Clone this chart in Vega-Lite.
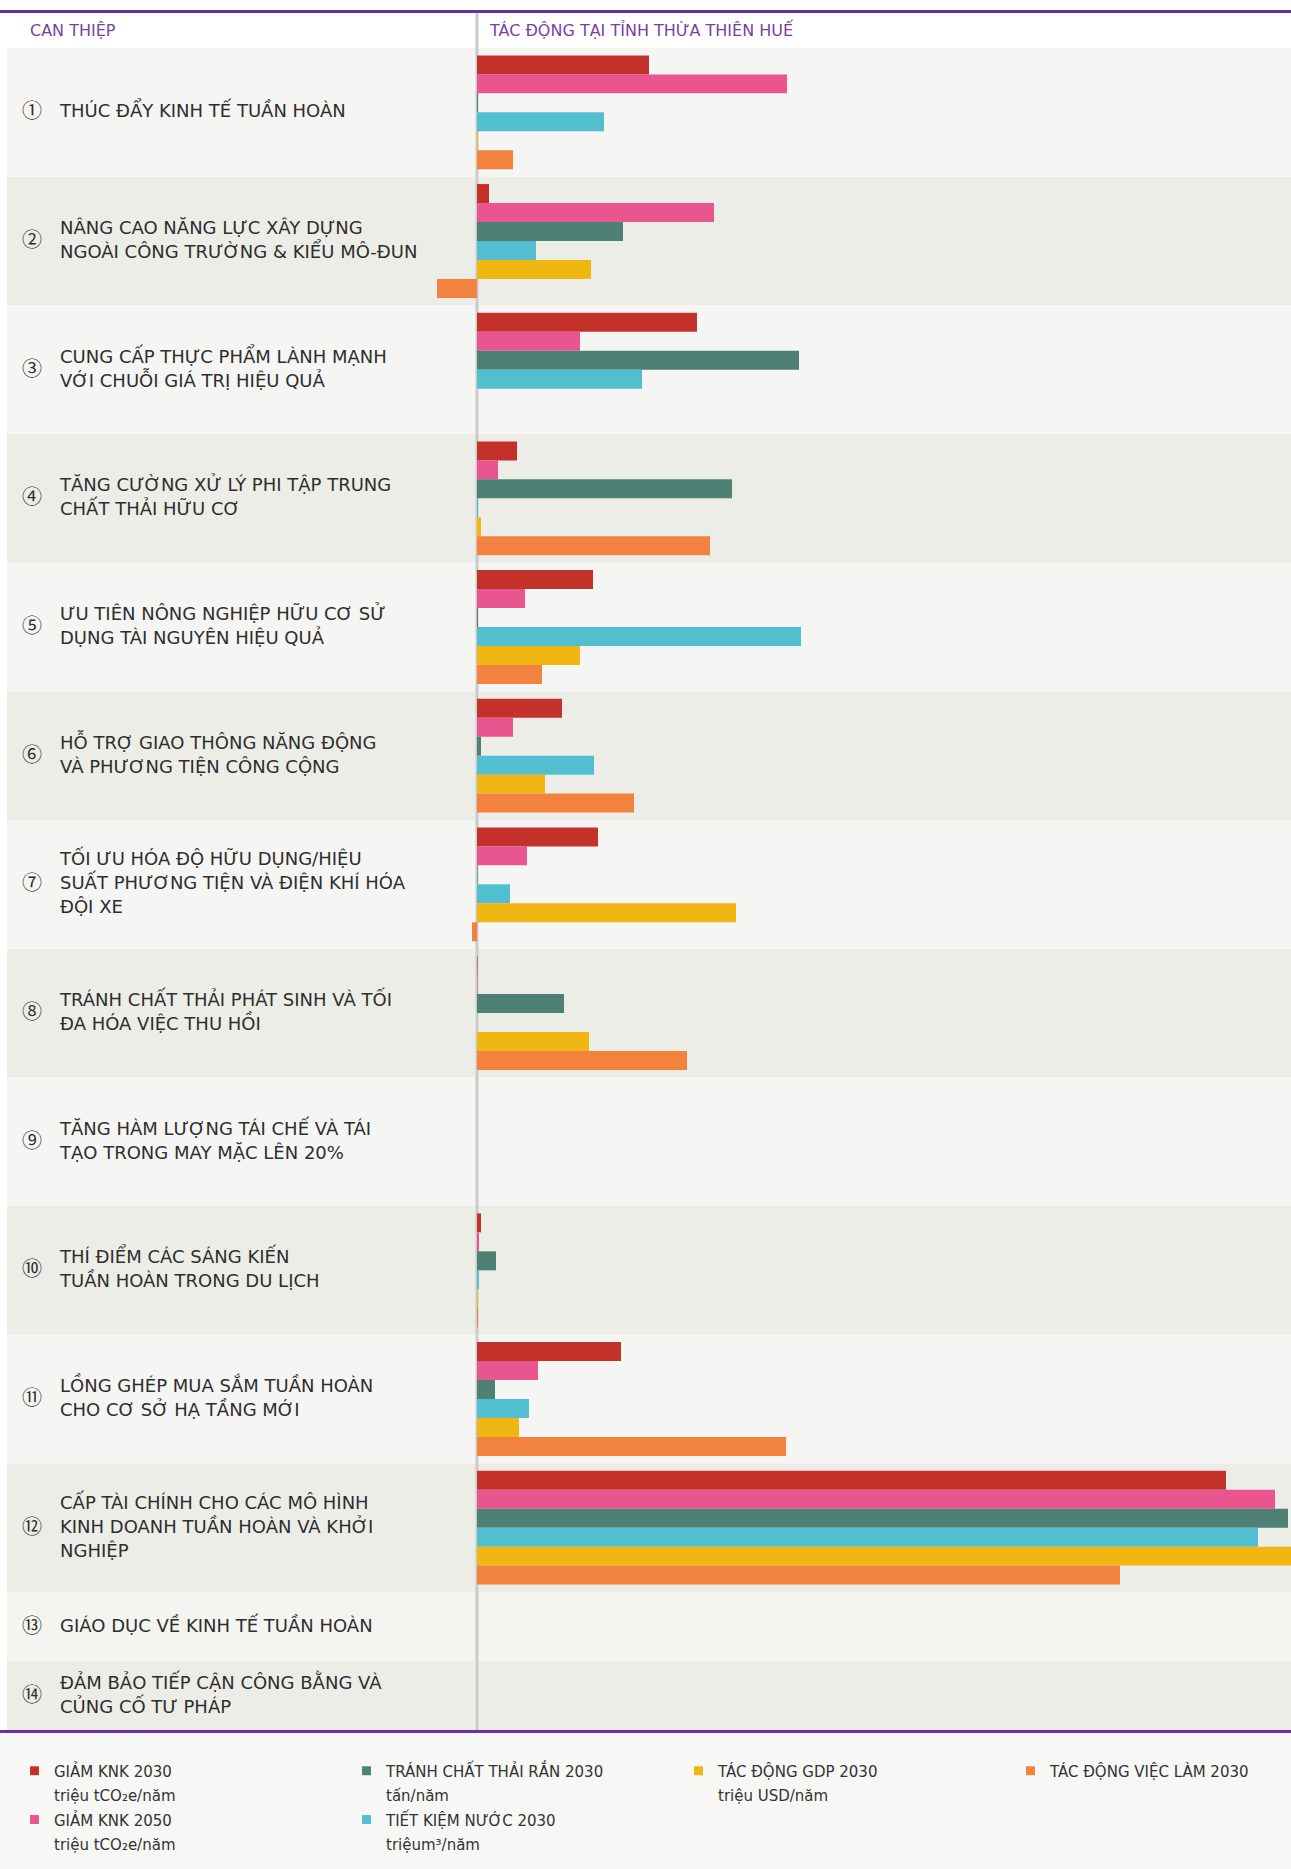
{
  "$schema": "https://vega.github.io/schema/vega-lite/v6.json",
  "background": "#FFFFFF",
  "padding": 0,
  "spacing": 0,
  "config": {"view": {"stroke": null}, "font": "DejaVu Sans", "concat": {"spacing": 0}},
  "datasets": {
    "interventions": [
      {"id": 1, "num": "①", "label": "THÚC ĐẨY KINH TẾ TUẦN HOÀN"},
      {"id": 2, "num": "②", "label": "NÂNG CAO NĂNG LỰC XÂY DỰNG|NGOÀI CÔNG TRƯỜNG & KIỂU MÔ-ĐUN"},
      {"id": 3, "num": "③", "label": "CUNG CẤP THỰC PHẨM LÀNH MẠNH|VỚI CHUỖI GIÁ TRỊ HIỆU QUẢ"},
      {"id": 4, "num": "④", "label": "TĂNG CƯỜNG XỬ LÝ PHI TẬP TRUNG|CHẤT THẢI HỮU CƠ"},
      {"id": 5, "num": "⑤", "label": "ƯU TIÊN NÔNG NGHIỆP HỮU CƠ SỬ|DỤNG TÀI NGUYÊN HIỆU QUẢ"},
      {"id": 6, "num": "⑥", "label": "HỖ TRỢ GIAO THÔNG NĂNG ĐỘNG|VÀ PHƯƠNG TIỆN CÔNG CỘNG"},
      {"id": 7, "num": "⑦", "label": "TỐI ƯU HÓA ĐỘ HỮU DỤNG/HIỆU|SUẤT PHƯƠNG TIỆN VÀ ĐIỆN KHÍ HÓA|ĐỘI XE"},
      {"id": 8, "num": "⑧", "label": "TRÁNH CHẤT THẢI PHÁT SINH VÀ TỐI|ĐA HÓA VIỆC THU HỒI"},
      {"id": 9, "num": "⑨", "label": "TĂNG HÀM LƯỢNG TÁI CHẾ VÀ TÁI|TẠO TRONG MAY MẶC LÊN 20%"},
      {"id": 10, "num": "⑩", "label": "THÍ ĐIỂM CÁC SÁNG KIẾN|TUẦN HOÀN TRONG DU LỊCH"},
      {"id": 11, "num": "⑪", "label": "LỒNG GHÉP MUA SẮM TUẦN HOÀN|CHO CƠ SỞ HẠ TẦNG MỚI"},
      {"id": 12, "num": "⑫", "label": "CẤP TÀI CHÍNH CHO CÁC MÔ HÌNH|KINH DOANH TUẦN HOÀN VÀ KHỞI|NGHIỆP"},
      {"id": 13, "num": "⑬", "label": "GIÁO DỤC VỀ KINH TẾ TUẦN HOÀN"},
      {"id": 14, "num": "⑭", "label": "ĐẢM BẢO TIẾP CẬN CÔNG BẰNG VÀ|CỦNG CỐ TƯ PHÁP"}
    ],
    "impacts": [
      {"id": 1, "metric": "GIẢM KNK 2030|triệu tCO₂e/năm", "value": 172},
      {"id": 1, "metric": "GIẢM KNK 2050|triệu tCO₂e/năm", "value": 310},
      {"id": 1, "metric": "TRÁNH CHẤT THẢI RẮN 2030|tấn/năm", "value": 1},
      {"id": 1, "metric": "TIẾT KIỆM NƯỚC 2030|triệum³/năm", "value": 127},
      {"id": 1, "metric": "TÁC ĐỘNG GDP 2030|triệu USD/năm", "value": 1},
      {"id": 1, "metric": "TÁC ĐỘNG VIỆC LÀM 2030", "value": 36},
      {"id": 2, "metric": "GIẢM KNK 2030|triệu tCO₂e/năm", "value": 12},
      {"id": 2, "metric": "GIẢM KNK 2050|triệu tCO₂e/năm", "value": 237},
      {"id": 2, "metric": "TRÁNH CHẤT THẢI RẮN 2030|tấn/năm", "value": 146},
      {"id": 2, "metric": "TIẾT KIỆM NƯỚC 2030|triệum³/năm", "value": 59},
      {"id": 2, "metric": "TÁC ĐỘNG GDP 2030|triệu USD/năm", "value": 114},
      {"id": 2, "metric": "TÁC ĐỘNG VIỆC LÀM 2030", "value": -40},
      {"id": 3, "metric": "GIẢM KNK 2030|triệu tCO₂e/năm", "value": 220},
      {"id": 3, "metric": "GIẢM KNK 2050|triệu tCO₂e/năm", "value": 103},
      {"id": 3, "metric": "TRÁNH CHẤT THẢI RẮN 2030|tấn/năm", "value": 322},
      {"id": 3, "metric": "TIẾT KIỆM NƯỚC 2030|triệum³/năm", "value": 165},
      {"id": 3, "metric": "TÁC ĐỘNG GDP 2030|triệu USD/năm", "value": 0},
      {"id": 3, "metric": "TÁC ĐỘNG VIỆC LÀM 2030", "value": 0},
      {"id": 4, "metric": "GIẢM KNK 2030|triệu tCO₂e/năm", "value": 40},
      {"id": 4, "metric": "GIẢM KNK 2050|triệu tCO₂e/năm", "value": 21},
      {"id": 4, "metric": "TRÁNH CHẤT THẢI RẮN 2030|tấn/năm", "value": 255},
      {"id": 4, "metric": "TIẾT KIỆM NƯỚC 2030|triệum³/năm", "value": 1},
      {"id": 4, "metric": "TÁC ĐỘNG GDP 2030|triệu USD/năm", "value": 4},
      {"id": 4, "metric": "TÁC ĐỘNG VIỆC LÀM 2030", "value": 233},
      {"id": 5, "metric": "GIẢM KNK 2030|triệu tCO₂e/năm", "value": 116},
      {"id": 5, "metric": "GIẢM KNK 2050|triệu tCO₂e/năm", "value": 48},
      {"id": 5, "metric": "TRÁNH CHẤT THẢI RẮN 2030|tấn/năm", "value": 1},
      {"id": 5, "metric": "TIẾT KIỆM NƯỚC 2030|triệum³/năm", "value": 324},
      {"id": 5, "metric": "TÁC ĐỘNG GDP 2030|triệu USD/năm", "value": 103},
      {"id": 5, "metric": "TÁC ĐỘNG VIỆC LÀM 2030", "value": 65},
      {"id": 6, "metric": "GIẢM KNK 2030|triệu tCO₂e/năm", "value": 85},
      {"id": 6, "metric": "GIẢM KNK 2050|triệu tCO₂e/năm", "value": 36},
      {"id": 6, "metric": "TRÁNH CHẤT THẢI RẮN 2030|tấn/năm", "value": 4},
      {"id": 6, "metric": "TIẾT KIỆM NƯỚC 2030|triệum³/năm", "value": 117},
      {"id": 6, "metric": "TÁC ĐỘNG GDP 2030|triệu USD/năm", "value": 68},
      {"id": 6, "metric": "TÁC ĐỘNG VIỆC LÀM 2030", "value": 157},
      {"id": 7, "metric": "GIẢM KNK 2030|triệu tCO₂e/năm", "value": 121},
      {"id": 7, "metric": "GIẢM KNK 2050|triệu tCO₂e/năm", "value": 50},
      {"id": 7, "metric": "TRÁNH CHẤT THẢI RẮN 2030|tấn/năm", "value": 0.5},
      {"id": 7, "metric": "TIẾT KIỆM NƯỚC 2030|triệum³/năm", "value": 33},
      {"id": 7, "metric": "TÁC ĐỘNG GDP 2030|triệu USD/năm", "value": 259},
      {"id": 7, "metric": "TÁC ĐỘNG VIỆC LÀM 2030", "value": -5},
      {"id": 8, "metric": "GIẢM KNK 2030|triệu tCO₂e/năm", "value": 0.5},
      {"id": 8, "metric": "GIẢM KNK 2050|triệu tCO₂e/năm", "value": 0.5},
      {"id": 8, "metric": "TRÁNH CHẤT THẢI RẮN 2030|tấn/năm", "value": 87},
      {"id": 8, "metric": "TIẾT KIỆM NƯỚC 2030|triệum³/năm", "value": 0},
      {"id": 8, "metric": "TÁC ĐỘNG GDP 2030|triệu USD/năm", "value": 112},
      {"id": 8, "metric": "TÁC ĐỘNG VIỆC LÀM 2030", "value": 210},
      {"id": 9, "metric": "GIẢM KNK 2030|triệu tCO₂e/năm", "value": 0},
      {"id": 9, "metric": "GIẢM KNK 2050|triệu tCO₂e/năm", "value": 0},
      {"id": 9, "metric": "TRÁNH CHẤT THẢI RẮN 2030|tấn/năm", "value": 0},
      {"id": 9, "metric": "TIẾT KIỆM NƯỚC 2030|triệum³/năm", "value": 0},
      {"id": 9, "metric": "TÁC ĐỘNG GDP 2030|triệu USD/năm", "value": 0},
      {"id": 9, "metric": "TÁC ĐỘNG VIỆC LÀM 2030", "value": 0},
      {"id": 10, "metric": "GIẢM KNK 2030|triệu tCO₂e/năm", "value": 4},
      {"id": 10, "metric": "GIẢM KNK 2050|triệu tCO₂e/năm", "value": 2},
      {"id": 10, "metric": "TRÁNH CHẤT THẢI RẮN 2030|tấn/năm", "value": 19},
      {"id": 10, "metric": "TIẾT KIỆM NƯỚC 2030|triệum³/năm", "value": 2},
      {"id": 10, "metric": "TÁC ĐỘNG GDP 2030|triệu USD/năm", "value": 1},
      {"id": 10, "metric": "TÁC ĐỘNG VIỆC LÀM 2030", "value": 1},
      {"id": 11, "metric": "GIẢM KNK 2030|triệu tCO₂e/năm", "value": 144},
      {"id": 11, "metric": "GIẢM KNK 2050|triệu tCO₂e/năm", "value": 61},
      {"id": 11, "metric": "TRÁNH CHẤT THẢI RẮN 2030|tấn/năm", "value": 18},
      {"id": 11, "metric": "TIẾT KIỆM NƯỚC 2030|triệum³/năm", "value": 52},
      {"id": 11, "metric": "TÁC ĐỘNG GDP 2030|triệu USD/năm", "value": 42},
      {"id": 11, "metric": "TÁC ĐỘNG VIỆC LÀM 2030", "value": 309},
      {"id": 12, "metric": "GIẢM KNK 2030|triệu tCO₂e/năm", "value": 749},
      {"id": 12, "metric": "GIẢM KNK 2050|triệu tCO₂e/năm", "value": 798},
      {"id": 12, "metric": "TRÁNH CHẤT THẢI RẮN 2030|tấn/năm", "value": 811},
      {"id": 12, "metric": "TIẾT KIỆM NƯỚC 2030|triệum³/năm", "value": 781},
      {"id": 12, "metric": "TÁC ĐỘNG GDP 2030|triệu USD/năm", "value": 814},
      {"id": 12, "metric": "TÁC ĐỘNG VIỆC LÀM 2030", "value": 643}
    ]
  },
  "vconcat": [
    {
      "width": 1291, "height": 10,
      "view": {"fill": "#FFFFFF", "stroke": null},
      "data": {"values": []},
      "mark": "rect",
      "encoding": {}
    },
    {
      "width": 1291, "height": 3,
      "view": {"fill": "#6B2E9E", "stroke": null},
      "data": {"values": []},
      "mark": "rect",
      "encoding": {}
    },
    {
      "width": 1291,
      "height": 35,
      "view": {"fill": "#FFFFFF", "stroke": null},
      "layer": [
        {
          "data": {"values": [{"base": 0}]},
          "mark": {"type": "rect", "color": "#CBCBCB"},
          "encoding": {
            "x": {"datum": -1.5, "type": "quantitative", "scale": {"domain": [-477, 814], "nice": false, "zero": false}, "axis": null},
            "x2": {"datum": 1.5}
          }
        },
        {
          "data": {"values": [{"header": "CAN THIỆP"}]},
          "mark": {"type": "text", "align": "left", "baseline": "middle", "fontSize": 16, "color": "#7A3FA3"},
          "encoding": {
            "x": {"datum": -447, "type": "quantitative", "scale": {"domain": [-477, 814], "nice": false, "zero": false}, "axis": null},
            "text": {"field": "header"}
          }
        },
        {
          "data": {"values": [{"header": "TÁC ĐỘNG TẠI TỈNH THỪA THIÊN HUẾ"}]},
          "mark": {"type": "text", "align": "left", "baseline": "middle", "fontSize": 16, "color": "#7A3FA3"},
          "encoding": {
            "x": {"datum": 13, "type": "quantitative", "scale": {"domain": [-477, 814], "nice": false, "zero": false}, "axis": null},
            "text": {"field": "header"}
          }
        }
      ]
    },
    {
      "width": 1291,
      "height": 1544,
      "layer": [
        {
          "data": {"name": "interventions"},
          "transform": [{"filter": "datum.id <= 12"}],
          "mark": {"type": "rect"},
          "encoding": {
            "y": {"field": "id", "type": "ordinal", "scale": {"domain": [1,2,3,4,5,6,7,8,9,10,11,12], "paddingInner": 0, "paddingOuter": 0}, "axis": null},
            "x": {"datum": -470, "type": "quantitative", "scale": {"domain": [-477, 814], "nice": false, "zero": false}, "axis": null},
            "x2": {"datum": 814},
            "fill": {"field": "id", "type": "ordinal", "scale": {"domain": [1,2,3,4,5,6,7,8,9,10,11,12,13,14], "range": ["#F5F5F3","#EDEDE8","#F5F5F3","#EDEDE8","#F5F5F3","#EDEDE8","#F5F5F3","#EDEDE8","#F5F5F3","#EDEDE8","#F5F5F3","#EDEDE8","#F4F4F1","#EDEDE8"]}, "legend": null}
          }
        },
        {
          "data": {"values": [{"base": 0}]},
          "mark": {"type": "rect", "color": "#CBCBCB"},
          "encoding": {
            "x": {"datum": -1.5, "type": "quantitative", "scale": {"domain": [-477, 814], "nice": false, "zero": false}, "axis": null},
            "x2": {"datum": 1.5}
          }
        },
        {
          "data": {"name": "impacts"},
          "mark": {"type": "bar"},
          "encoding": {
            "y": {"field": "id", "type": "ordinal", "scale": {"domain": [1,2,3,4,5,6,7,8,9,10,11,12], "paddingInner": 0, "paddingOuter": 0}, "axis": null},
            "yOffset": {"field": "metric", "type": "nominal", "scale": {"domain": ["GIẢM KNK 2030|triệu tCO₂e/năm", "GIẢM KNK 2050|triệu tCO₂e/năm", "TRÁNH CHẤT THẢI RẮN 2030|tấn/năm", "TIẾT KIỆM NƯỚC 2030|triệum³/năm", "TÁC ĐỘNG GDP 2030|triệu USD/năm", "TÁC ĐỘNG VIỆC LÀM 2030"], "paddingInner": 0, "paddingOuter": 0.39}},
            "x": {"field": "value", "type": "quantitative", "scale": {"domain": [-477, 814], "nice": false, "zero": false}, "axis": null},
            "color": {
              "field": "metric", "type": "nominal",
              "scale": {
                "domain": ["GIẢM KNK 2030|triệu tCO₂e/năm", "TRÁNH CHẤT THẢI RẮN 2030|tấn/năm", "TÁC ĐỘNG GDP 2030|triệu USD/năm", "TÁC ĐỘNG VIỆC LÀM 2030", "GIẢM KNK 2050|triệu tCO₂e/năm", "TIẾT KIỆM NƯỚC 2030|triệum³/năm"],
                "range": ["#C4312A", "#4E8074", "#F0B612", "#F2823D", "#E8558F", "#52BFD0"]
              },
              "legend": {
                "orient": "none", "legendX": 27, "legendY": 1763, "direction": "horizontal", "columns": 4, "columnPadding": 87, "rowPadding": 8, "gridAlign": "all",
                "padding": 0, "title": null, "symbolType": "square", "symbolSize": 80, "symbolStrokeWidth": 0,
                "labelFont": "DejaVu Sans", "labelFontSize": 15, "labelColor": "#333333", "labelLimit": 400, "labelOffset": 12,
                "labelBaseline": "top",
                "labelExpr": "indexof(datum.label, '|') < 0 ? [datum.label, ' '] : split(datum.label, '|')",
                "encoding": {"labels": {"lineHeight": {"value": 24}, "dy": {"value": -6}}}
              }
            }
          }
        },
        {
          "data": {"name": "interventions"},
          "transform": [{"filter": "datum.id <= 12"}],
          "mark": {"type": "text", "align": "center", "baseline": "middle", "font": "Noto Sans CJK JP", "fontSize": 20, "color": "#2E2E2E"},
          "encoding": {
            "y": {"field": "id", "type": "ordinal", "scale": {"domain": [1,2,3,4,5,6,7,8,9,10,11,12], "paddingInner": 0, "paddingOuter": 0}, "axis": null},
            "x": {"datum": -445, "type": "quantitative", "scale": {"domain": [-477, 814], "nice": false, "zero": false}, "axis": null},
            "text": {"field": "num"}
          }
        },
        {
          "data": {"name": "interventions"},
          "transform": [{"filter": "datum.id <= 12"}],
          "mark": {"type": "text", "align": "left", "baseline": "middle", "fontSize": 18, "lineHeight": 24, "lineBreak": "|", "color": "#2E2E2E",
                   "dy": {"expr": "-12 * (length(split(datum.label, '|')) - 1)"}},
          "encoding": {
            "y": {"field": "id", "type": "ordinal", "scale": {"domain": [1,2,3,4,5,6,7,8,9,10,11,12], "paddingInner": 0, "paddingOuter": 0}, "axis": null},
            "x": {"datum": -417, "type": "quantitative", "scale": {"domain": [-477, 814], "nice": false, "zero": false}, "axis": null},
            "text": {"field": "label"}
          }
        }
      ]
    },
    {
      "width": 1291,
      "height": 138,
      "layer": [
        {
          "data": {"name": "interventions"},
          "transform": [{"filter": "datum.id >= 13"}],
          "mark": {"type": "rect"},
          "encoding": {
            "y": {"field": "id", "type": "ordinal", "scale": {"domain": [13, 14], "paddingInner": 0, "paddingOuter": 0}, "axis": null},
            "x": {"datum": -470, "type": "quantitative", "scale": {"domain": [-477, 814], "nice": false, "zero": false}, "axis": null},
            "x2": {"datum": 814},
            "fill": {"field": "id", "type": "ordinal", "scale": {"domain": [1,2,3,4,5,6,7,8,9,10,11,12,13,14], "range": ["#F5F5F3","#EDEDE8","#F5F5F3","#EDEDE8","#F5F5F3","#EDEDE8","#F5F5F3","#EDEDE8","#F5F5F3","#EDEDE8","#F5F5F3","#EDEDE8","#F4F4F1","#EDEDE8"]}, "legend": null}
          }
        },
        {
          "data": {"values": [{"base": 0}]},
          "mark": {"type": "rect", "color": "#CBCBCB"},
          "encoding": {
            "x": {"datum": -1.5, "type": "quantitative", "scale": {"domain": [-477, 814], "nice": false, "zero": false}, "axis": null},
            "x2": {"datum": 1.5}
          }
        },
        {
          "data": {"name": "interventions"},
          "transform": [{"filter": "datum.id >= 13"}],
          "mark": {"type": "text", "align": "center", "baseline": "middle", "font": "Noto Sans CJK JP", "fontSize": 20, "color": "#2E2E2E"},
          "encoding": {
            "y": {"field": "id", "type": "ordinal", "scale": {"domain": [13, 14], "paddingInner": 0, "paddingOuter": 0}, "axis": null},
            "x": {"datum": -445, "type": "quantitative", "scale": {"domain": [-477, 814], "nice": false, "zero": false}, "axis": null},
            "text": {"field": "num"}
          }
        },
        {
          "data": {"name": "interventions"},
          "transform": [{"filter": "datum.id >= 13"}],
          "mark": {"type": "text", "align": "left", "baseline": "middle", "fontSize": 18, "lineHeight": 24, "lineBreak": "|", "color": "#2E2E2E",
                   "dy": {"expr": "-12 * (length(split(datum.label, '|')) - 1)"}},
          "encoding": {
            "y": {"field": "id", "type": "ordinal", "scale": {"domain": [13, 14], "paddingInner": 0, "paddingOuter": 0}, "axis": null},
            "x": {"datum": -417, "type": "quantitative", "scale": {"domain": [-477, 814], "nice": false, "zero": false}, "axis": null},
            "text": {"field": "label"}
          }
        }
      ]
    },
    {
      "width": 1291, "height": 3,
      "view": {"fill": "#6B2E9E", "stroke": null},
      "data": {"values": []},
      "mark": "rect",
      "encoding": {}
    },
    {
      "width": 1291, "height": 136,
      "view": {"fill": "#F7F7F5", "stroke": null},
      "data": {"values": []},
      "mark": "rect",
      "encoding": {}
    }
  ]
}
